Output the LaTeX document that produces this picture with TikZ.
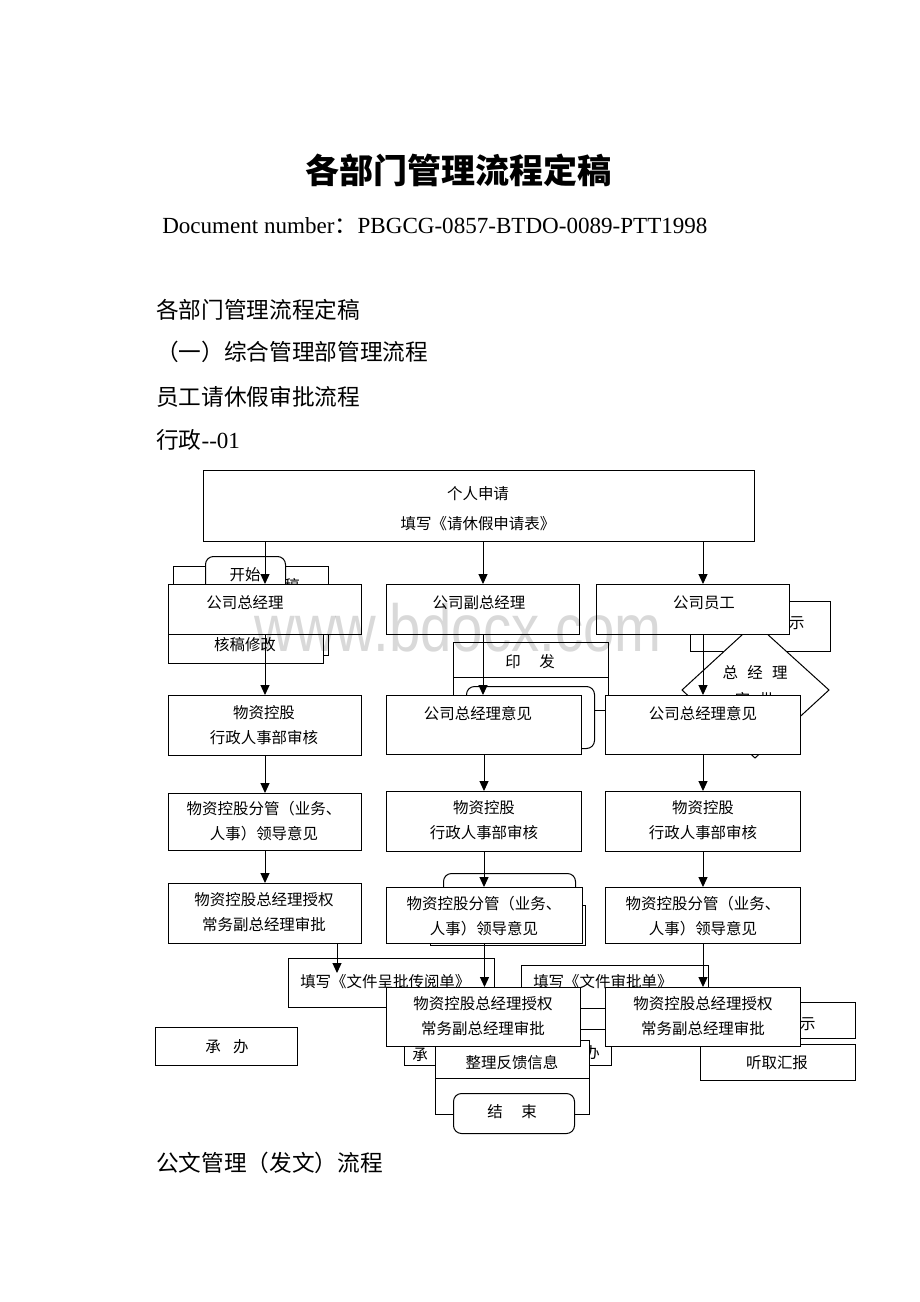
\documentclass[tikz,border=0pt]{standalone}
\usepackage{fontspec}
\setmainfont{Liberation Serif}
\newfontfamily\cjk{Noto Sans CJK SC}
\newfontfamily\lat{Liberation Serif}
\newfontfamily\wm{Liberation Sans}
\usetikzlibrary{arrows.meta,calc}
\begin{document}
\begin{tikzpicture}[x=0.75pt,y=-0.75pt,
  box/.style={draw, fill=white, line width=0.75pt, inner sep=0pt, anchor=north west},
  rbox/.style={box, rounded corners=6pt},
  wh/.style 2 args={minimum width=#1*0.75pt, minimum height=#2*0.75pt},
  bt/.style={font=\cjk\fontsize{11.6}{18.5}\selectfont, inner sep=0pt, align=center},
  hd/.style={font=\cjk\fontsize{17}{20}\selectfont, inner sep=0pt, anchor=west},
  arr/.style={line width=0.75pt, -{Triangle[length=7.5pt,width=6.8pt]}},
  ln/.style={line width=0.75pt}]
\fill[white] (0,0) rectangle (920,1302);
\useasboundingbox (0,0) rectangle (920,1302);

% headings
\node[font=\cjk\bfseries\fontsize{25.5}{30}\selectfont, inner sep=0pt] (title) at (458,170) {各部门管理流程定稿};
\node[font=\lat\fontsize{17.3}{20}\selectfont, inner sep=0pt, anchor=west] (docno) at (162,226) {Document number{\cjk：}PBGCG-0857-BTDO-0089-PTT1998};
\node[hd] (h1) at (156,310) {各部门管理流程定稿};
\node[hd] (h2) at (156,352) {（一）综合管理部管理流程};
\node[hd] (h3) at (156,397) {员工请休假审批流程};
\node[hd] (h4) at (156,440) {行政{\lat\fontsize{17.3}{20}\selectfont -\/-01}};
\node[hd] (h5) at (156,1163) {公文管理（发文）流程};

% top box
\node[box, wh={551}{71}] (top) at (203,470) {};
\node[bt] (topt) at (478,509) {个人申请\\[4pt]填写《请休假申请表》};

% left column
\node[box, wh={155}{89}] (boxa) at (173,566) {};
\node[bt] (boxat) at (292,586) {稿};
\node[rbox, wh={80}{54}] (kaishi) at (205,556) {};
\node[bt] (kaishit) at (245,575) {开始};
\node[box, wh={155}{43}] (hegao) at (168,620) {};
\node[bt] (hegaot) at (245,645) {核稿修改};
\node[box, wh={193}{50}] (gm) at (168,584) {};
\node[bt] (gmt) at (245,603) {公司总经理};

% middle column
\node[box, wh={193}{50}] (vgm) at (386,584) {};
\node[bt] (vgmt) at (479,603) {公司副总经理};
\node[box, wh={155}{68}] (yinfa) at (453,642) {};
\draw[ln] (yinfa.west |- 0,677) -- (yinfa.east |- 0,677);
\node[bt] (yinfat) at (530,662) {印\hspace{1.2em}发};
\node[rbox, wh={128}{62}] (rr1) at (466,686) {};
\node[box, wh={195}{59}] (myj) at (386,695) {};
\node[bt] (myjt) at (478,714) {公司总经理意见};

% right column
\node[box, wh={140}{50}] (shi1) at (690,601) {};
\node[bt] (shi1t) at (789,623) {批示};
\draw[ln, fill=white] (682,690) -- (755,623) -- (829,690) -- (755,758) -- cycle;
\coordinate (dia) at (755,690);
\node[bt] (diat1) at (755,673) {总\hspace{0.6em}经\hspace{0.6em}理};
\node[bt] (diat2) at (755,700) {审\hspace{0.6em}批};
\node[box, wh={193}{50}] (emp) at (596,584) {};
\node[bt] (empt) at (704,603) {公司员工};
\node[box, wh={195}{59}] (ryj) at (605,695) {};
\node[bt] (ryjt) at (703,714) {公司总经理意见};

% rows 2-4
\node[box, wh={193}{60}] (l1) at (168,695) {};
\node[bt] (l1t) at (264,725) {物资控股\\行政人事部审核};
\node[box, wh={193}{57}] (l3) at (168,793) {};
\node[bt] (l3t) at (264,821) {物资控股分管（业务、\\人事）领导意见};
\node[box, wh={195}{60}] (m3) at (386,791) {};
\node[bt] (m3t) at (484,820) {物资控股\\行政人事部审核};
\node[box, wh={195}{60}] (r3) at (605,791) {};
\node[bt] (r3t) at (703,820) {物资控股\\行政人事部审核};
\node[box, wh={193}{60}] (l4) at (168,883) {};
\node[bt] (l4t) at (264,912) {物资控股总经理授权\\常务副总经理审批};
\node[rbox, wh={132}{30}] (rr2) at (443,873) {};
\node[box, wh={155}{40}] (sh2) at (430,905) {};
\node[box, wh={196}{56}] (m4) at (386,887) {};
\node[bt] (m4t) at (484,916) {物资控股分管（业务、\\人事）领导意见};
\node[box, wh={195}{56}] (r4) at (605,887) {};
\node[bt] (r4t) at (703,916) {物资控股分管（业务、\\人事）领导意见};

% row 5
\node[box, wh={206}{49}] (tx1) at (288,958) {};
\node[bt, anchor=west] (tx1t) at (300,982) {填写《文件呈批传阅单》};
\node[box, wh={187}{43}] (tx2) at (521,965) {};
\node[bt, anchor=west] (tx2t) at (533,982) {填写《文件审批单》};
\node[box, wh={207}{36}] (cb2) at (404,1029) {};
\node[bt] (cb2a) at (420,1055) {承};
\node[bt] (cb2b) at (592,1053) {办};
\node[box, wh={154}{74}] (zl) at (435,1040) {};
\draw[ln] (zl.west |- 0,1078) -- (zl.east |- 0,1078);
\node[bt] (zlt) at (512,1063) {整理反馈信息};
\node[rbox, wh={121}{40}] (js) at (453,1093) {};
\node[bt] (jst) at (512,1112) {结\hspace{1.2em}束};
\node[box, wh={194}{59}] (m5) at (386,987) {};
\node[bt] (m5t) at (483,1016) {物资控股总经理授权\\常务副总经理审批};
\node[box, wh={165}{36}] (shi2) at (690,1002) {};
\node[bt] (shi2t) at (800,1024) {批示};
\node[box, wh={155}{36}] (tq) at (700,1044) {};
\node[bt] (tqt) at (777,1063) {听取汇报};
\node[box, wh={195}{59}] (r5) at (605,987) {};
\node[bt] (r5t) at (703,1016) {物资控股总经理授权\\常务副总经理审批};
\node[box, wh={142}{38}] (cb1) at (155,1027) {};
\node[bt] (cb1t) at (227,1047) {承\hspace{0.8em}办};

% connectors
\draw[arr] (top.south -| gm.north) -- (gm.north);
\draw[arr] (gm.south) -- (l1.north);
\draw[arr] (top.south -| vgm.north) -- (vgm.north);
\draw[arr] (vgm.south) -- (myj.north -| vgm.south);
\draw[arr] (top.south -| ryj.north) -- (ryj.north |- emp.north);
\draw[arr] (emp.south -| ryj.north) -- (ryj.north);
\draw[ln] (rr1.east |- 0,710) -- (ryj.west |- 0,710);
\draw[arr] (l1.south) -- (l3.north);
\draw[arr] (l3.south) -- (l4.north);
\draw[arr] (myj.south) -- (m3.north);
\draw[arr] (m3.south) -- (m4.north -| m3.south);
\draw[arr] (ryj.south) -- (r3.north);
\draw[arr] (r3.south) -- (r4.north);
\coordinate (a5s) at (337,943);
\coordinate (a5e) at (337,973);
\draw[arr] (a5s) -- (a5e);
\draw[arr] (m4.south) -- (m5.north -| m4.south);
\draw[arr] (r4.south) -- (r5.north);

% watermark
\node[font=\wm\fontsize{50}{50}\selectfont, text=black, text opacity=0.15, xscale=0.845, inner sep=0pt] (wmk) at (458,628) {www.bdocx.com};
\end{tikzpicture}
\end{document}
